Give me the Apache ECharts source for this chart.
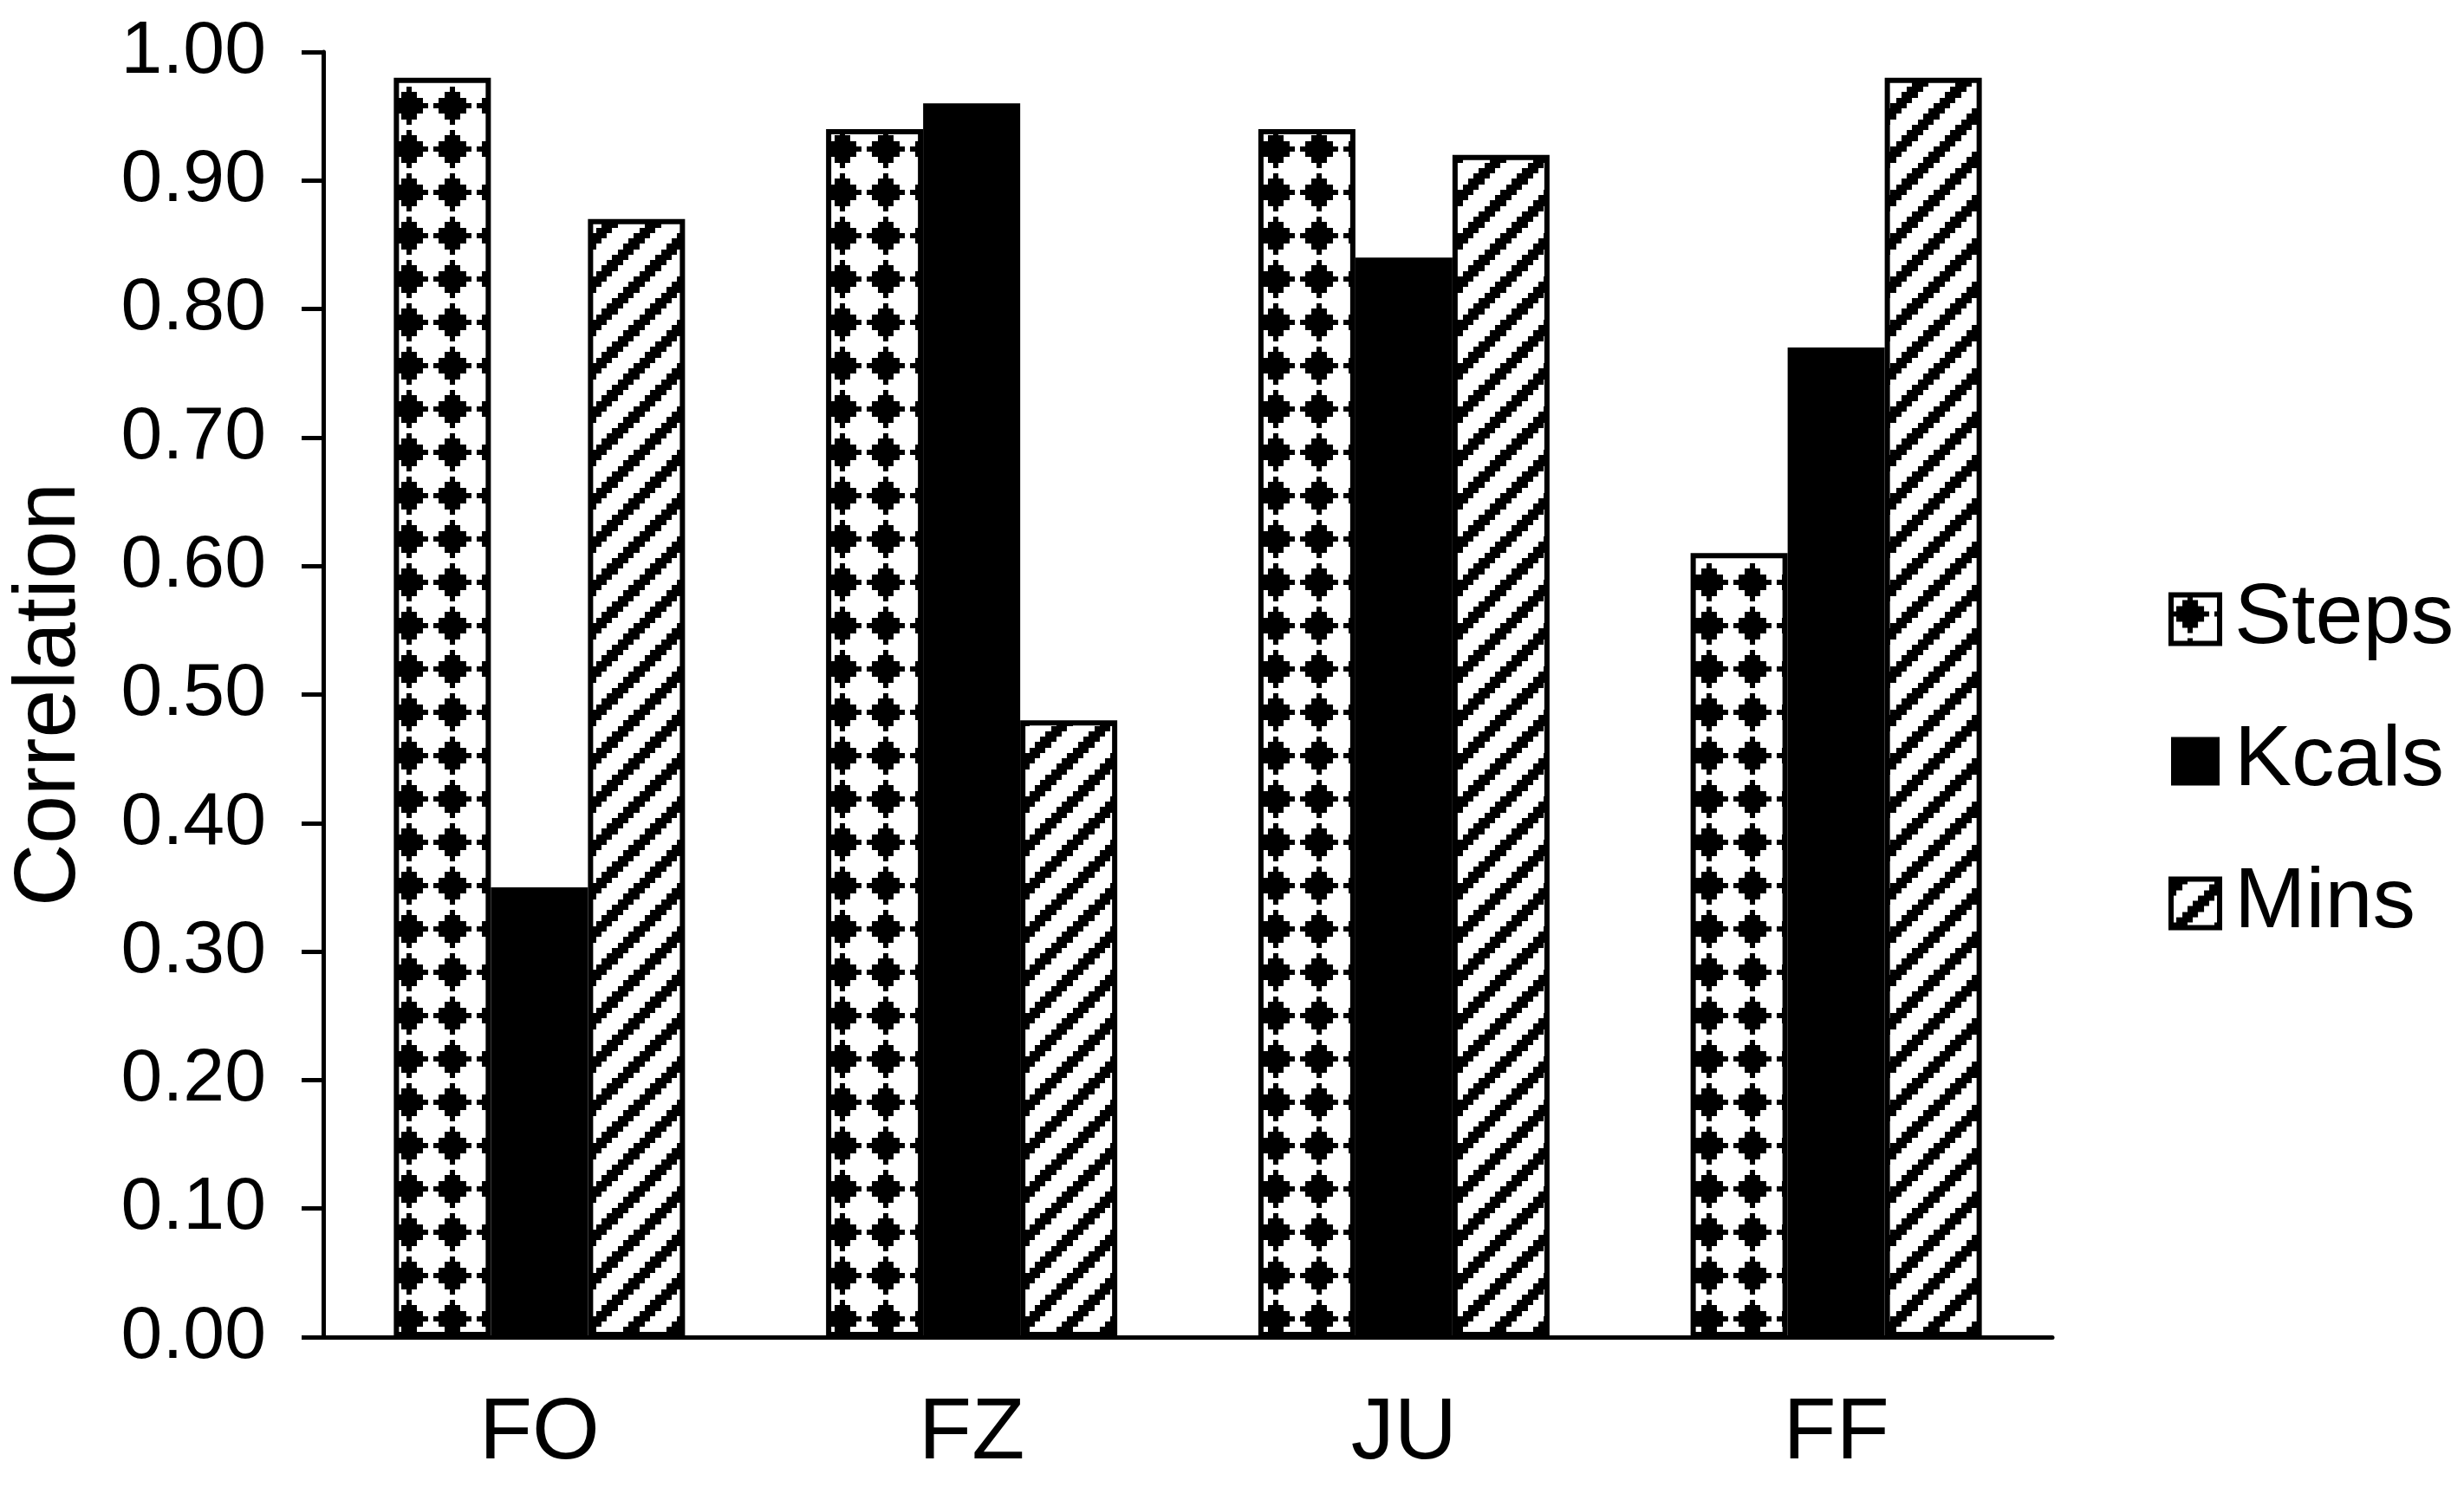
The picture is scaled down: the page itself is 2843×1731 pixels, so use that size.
<!DOCTYPE html>
<html>
<head>
<meta charset="utf-8">
<script src="https://cdn.jsdelivr.net/npm/echarts@6/dist/echarts.min.js"></script>
<style>
html,body{margin:0;padding:0;background:#fff;}
#chart{width:2843px;height:1731px;}
</style>
</head>
<body>
<div id="chart"></div>
<script>
var categories = ['FO', 'FZ', 'JU', 'FF'];
var seriesNames = ['Steps', 'Kcals', 'Mins'];
var stepsValues = [0.98, 0.94, 0.94, 0.61];
var kcalsValues = [0.35, 0.96, 0.84, 0.77];
var minsValues = [0.87, 0.48, 0.92, 0.98];
var yTicks = [0, 0.1, 0.2, 0.3, 0.4, 0.5, 0.6, 0.7, 0.8, 0.9, 1.0];

function makePattern(fn) {
  var size = 50, cell = 6.25;
  var c = document.createElement('canvas');
  c.width = size; c.height = size;
  var ctx = c.getContext('2d');
  ctx.fillStyle = '#fff';
  ctx.fillRect(0, 0, size, size);
  ctx.fillStyle = '#000';
  for (var r = 0; r < 8; r++) {
    for (var col = 0; col < 8; col++) {
      if (fn(r, col)) {
        var x0 = Math.round(col * cell), x1 = Math.round((col + 1) * cell);
        var y0 = Math.round(r * cell), y1 = Math.round((r + 1) * cell);
        ctx.fillRect(x0, y0, x1 - x0, y1 - y0);
      }
    }
  }
  return { image: c, repeat: 'repeat' };
}
var diamondHalf = [0, 1, 2, 3, 2, 1, 0, -1];
var diamondPattern = makePattern(function (r, c) {
  var h = diamondHalf[r];
  return h >= 0 && Math.abs(c - 3) <= h;
});
var stripePattern = makePattern(function (r, c) {
  return ((r + c) % 8) < 3;
});

var styles = [
  { color: diamondPattern, borderColor: '#000', borderWidth: 6 },
  { color: '#000', borderColor: '#000', borderWidth: 0 },
  { color: stripePattern, borderColor: '#000', borderWidth: 6 }
];
var values = [stepsValues, kcalsValues, minsValues];

var chart = echarts.init(document.getElementById('chart'), null, { renderer: 'canvas' });
var font = 'Liberation Sans, Arial, sans-serif';
chart.setOption({
  animation: false,
  backgroundColor: '#fff',
  grid: { left: 372, right: 475, top: 60, bottom: 188, containLabel: false },
  legend: {
    orient: 'vertical',
    left: 2497,
    top: 660,
    itemWidth: 56,
    itemHeight: 56,
    itemGap: 65,
    icon: 'rect',
    textStyle: { fontFamily: font, fontSize: 99, color: '#000', padding: [0, 0, 0, 12] },
    data: seriesNames.map(function (n, i) {
      return { name: n, itemStyle: { color: styles[i].color, borderColor: '#000', borderWidth: i === 1 ? 0 : 6 } };
    })
  },
  xAxis: {
    type: 'category',
    data: categories,
    axisLine: { lineStyle: { color: '#000', width: 5 } },
    axisTick: { show: false },
    axisLabel: { fontFamily: font, fontSize: 100, color: '#000', margin: 62 }
  },
  yAxis: {
    type: 'value',
    min: 0,
    max: 1,
    interval: 0.1,
    name: 'Correlation',
    nameLocation: 'middle',
    nameGap: 265,
    nameTextStyle: { fontFamily: font, fontSize: 100, color: '#000' },
    splitLine: { show: false },
    axisLine: { show: true, lineStyle: { color: '#000', width: 5 } },
    axisTick: { show: true, length: 25, lineStyle: { color: '#000', width: 5 } },
    axisLabel: {
      fontFamily: font, fontSize: 86, color: '#000', margin: 66,
      formatter: function (v) { return v.toFixed(2); }
    }
  },
  series: seriesNames.map(function (n, i) {
    return {
      name: n,
      type: 'bar',
      data: values[i],
      barWidth: 112,
      barGap: '0%',
      itemStyle: styles[i]
    };
  })
});
</script>
</body>
</html>
